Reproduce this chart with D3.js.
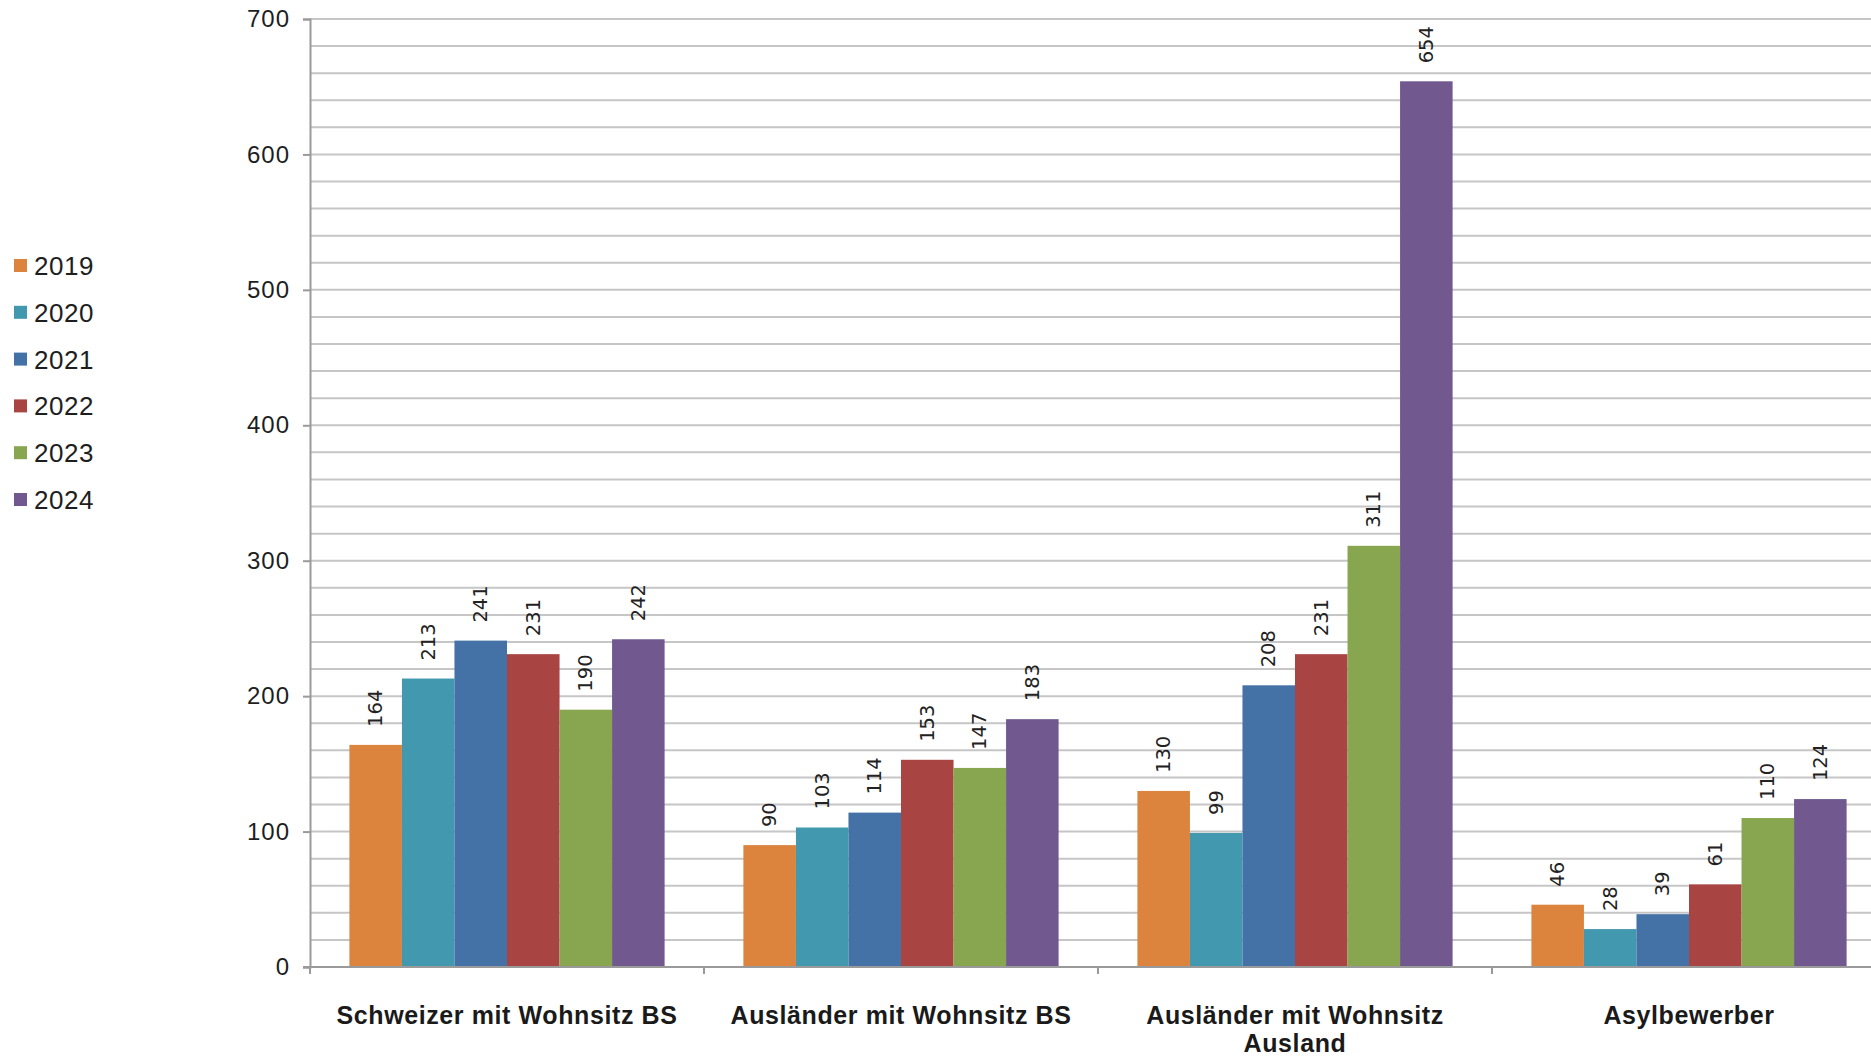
<!DOCTYPE html>
<html>
<head>
<meta charset="utf-8">
<script src="https://cdn.jsdelivr.net/npm/d3@7"></script>
<style>
  html, body { margin: 0; padding: 0; background: #fff; }
  svg { display: block; }
</style>
</head>
<body>
<svg id="chart" width="1871" height="1056"></svg>
<script>
const categories = ["Schweizer mit Wohnsitz BS", "Ausländer mit Wohnsitz BS", "Ausländer mit Wohnsitz Ausland", "Asylbewerber"];
const years = ["2019", "2020", "2021", "2022", "2023", "2024"];
const v2019 = [164, 90, 130, 46];
const v2020 = [213, 103, 99, 28];
const v2021 = [241, 114, 208, 39];
const v2022 = [231, 153, 231, 61];
const v2023 = [190, 147, 311, 110];
const v2024 = [242, 183, 654, 124];
const yTicks = [0, 100, 200, 300, 400, 500, 600, 700];
const colors = ["#DC843E", "#4198AF", "#4471A6", "#A84442", "#88A54F", "#71588F"];

const seriesValues = [v2019, v2020, v2021, v2022, v2023, v2024];
const svg = d3.select("#chart");
const W = 1871, H = 1056;

const x0 = d3.scaleBand().domain(categories).range([310, 1886]).paddingInner(0.2).paddingOuter(0.1);
const x1 = d3.scaleBand().domain(years).range([0, x0.bandwidth()]).padding(0);
const y = d3.scaleLinear().domain([0, 700]).range([967, 19]);
const color = d3.scaleOrdinal().domain(years).range(colors);

// minor gridlines every 20
const gridVals = d3.range(20, 701, 20);
svg.append("g").selectAll("line").data(gridVals).join("line")
  .attr("x1", 310).attr("x2", W)
  .attr("y1", d => y(d)).attr("y2", d => y(d))
  .attr("stroke", "#c6c6c6").attr("stroke-width", 2);

// bars
const groups = svg.append("g").selectAll("g").data(categories).join("g")
  .attr("transform", d => `translate(${x0(d)},0)`);

groups.selectAll("rect").data((c, ci) => years.map((yr, si) => ({ yr, v: seriesValues[si][ci] })))
  .join("rect")
  .attr("x", d => x1(d.yr))
  .attr("width", x1.bandwidth())
  .attr("y", d => y(d.v))
  .attr("height", d => y(0) - y(d.v))
  .attr("fill", d => color(d.yr));

// data labels
groups.selectAll("text").data((c, ci) => years.map((yr, si) => ({ yr, v: seriesValues[si][ci] })))
  .join("text")
  .attr("transform", d => `translate(${x1(d.yr) + x1.bandwidth() / 2},${y(d.v) - 18}) rotate(-90)`)
  .attr("text-anchor", "start")
  .attr("dominant-baseline", "central")
  .attr("font-family", "DejaVu Sans, Verdana, sans-serif")
  .attr("font-size", 19.5)
  .attr("fill", "#222")
  .text(d => d.v);

// y axis
const yAxis = d3.axisLeft(y).tickValues(yTicks).tickSize(7).tickPadding(13);
const gy = svg.append("g").attr("transform", "translate(310,0)").call(yAxis);
gy.select(".domain").attr("stroke", "#9a9a9a").attr("stroke-width", 2);
gy.selectAll(".tick line").attr("stroke", "#9a9a9a").attr("stroke-width", 2);
gy.selectAll(".tick text")
  .attr("font-family", "Liberation Sans, Arial, sans-serif")
  .attr("font-size", 24)
  .attr("letter-spacing", 1)
  .attr("fill", "#1e1e1e");

// x axis
svg.append("line").attr("x1", 303).attr("x2", W).attr("y1", y(0)).attr("y2", y(0))
  .attr("stroke", "#9a9a9a").attr("stroke-width", 2);
const bounds = d3.range(0, categories.length + 1).map(i => 310 + i * x0.step());
svg.append("g").selectAll("line").data(bounds).join("line")
  .attr("x1", d => d).attr("x2", d => d)
  .attr("y1", y(0)).attr("y2", y(0) + 7)
  .attr("stroke", "#9a9a9a").attr("stroke-width", 2);

// category labels with wrapping
const labelFont = 25;
const labels = svg.append("g");
categories.forEach(c => {
  const cx = x0(c) + x0.bandwidth() / 2;
  const t = labels.append("text")
    .attr("x", cx).attr("y", 1024)
    .attr("text-anchor", "middle")
    .attr("font-family", "Liberation Sans, Arial, sans-serif")
    .attr("font-weight", "bold")
    .attr("font-size", labelFont)
    .attr("letter-spacing", 0.6)
    .attr("fill", "#1a1a1a");
  const words = c.split(" ");
  let line = [];
  let tspan = t.append("tspan").attr("x", cx).attr("dy", 0);
  words.forEach(w => {
    line.push(w);
    tspan.text(line.join(" "));
    if (tspan.node().getComputedTextLength() > x0.step() && line.length > 1) {
      line.pop();
      tspan.text(line.join(" "));
      line = [w];
      tspan = t.append("tspan").attr("x", cx).attr("dy", 28).text(w);
    }
  });
});

// legend
const legend = svg.append("g");
years.forEach((yr, i) => {
  const cy = 266 + i * 46.8;
  legend.append("rect").attr("x", 14).attr("y", cy - 7).attr("width", 13).attr("height", 13)
    .attr("fill", color(yr));
  legend.append("text").attr("x", 34).attr("y", cy)
    .attr("dominant-baseline", "central")
    .attr("font-family", "Liberation Sans, Arial, sans-serif")
    .attr("font-size", 26)
    .attr("letter-spacing", 0.5)
    .attr("fill", "#1e1e1e")
    .text(yr);
});
</script>
</body>
</html>
